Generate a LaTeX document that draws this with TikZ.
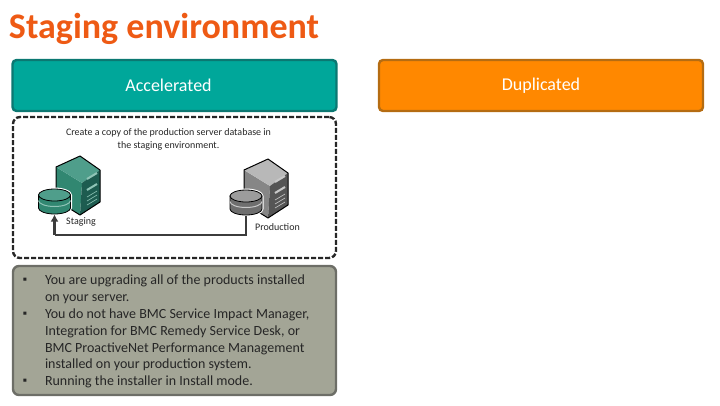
\documentclass[tikz,border=0pt]{standalone}
\usepackage{fontspec}
\setmainfont{Carlito}
\usetikzlibrary{arrows.meta}
\definecolor{tealfill}{HTML}{00A79A}
\definecolor{tealline}{HTML}{0B7872}
\definecolor{orangefill}{HTML}{FF8800}
\definecolor{orangeline}{HTML}{B56C12}
\definecolor{grayfill}{HTML}{A3A596}
\definecolor{grayline}{HTML}{6D6E67}
\definecolor{titlecol}{HTML}{EE5A14}
\definecolor{wirecol}{HTML}{3C3C3C}
\definecolor{stagetop}{HTML}{4F9E8B}
\definecolor{stagefront}{HTML}{318771}
\definecolor{stageside}{HTML}{1D5C50}
\definecolor{stagemark}{HTML}{8FC4B6}
\definecolor{prodtop}{HTML}{B8B8B8}
\definecolor{prodfront}{HTML}{868686}
\definecolor{prodside}{HTML}{555555}
\definecolor{prodmark}{HTML}{C8C8C8}
\definecolor{proddisc}{HTML}{9C9C9C}
\definecolor{prodbody}{HTML}{6E6E6E}
\tikzset{
  pics/server/.style n args={4}{code={
    \draw[white, line width=3pt, line join=round] (0,0) -- (-24,11) -- (-24,44) -- (0,59) -- (20,46) -- (20,14) -- cycle;
    \fill[#2] (-24,11) -- (2,27) -- (0,59) -- (-24,44) -- cycle;
    \fill[#1] (0,0) -- (-24,11) -- (2,27) -- (20,14) -- cycle;
    \fill[#3] (20,14) -- (2,27) -- (0,59) -- (20,46) -- cycle;
    \foreach \slot in {20,31}
      \draw[#4, line width=2pt] (7,\slot+3) -- (17,\slot-3);
    \foreach \slot in {41,45,49}
      \draw[#4, line width=.6pt] (7,\slot) -- (17,\slot-6);
    \draw[black, line width=1pt, line join=round] (0,0) -- (-24,11) -- (-24,44) -- (0,59) -- (20,46) -- (20,14) -- cycle;
  }},
  pics/dbase/.style n args={3}{code={
    \fill[white] (-17.5,0) -- (-17.5,13) arc (180:0:17.5 and 7.5) -- (17.5,0) arc (0:-180:17.5 and 7.5) -- cycle;
    \filldraw[draw=black, fill=#2, line width=.8pt] (-16,0) -- (-16,13) arc (180:0:16 and 6) -- (16,0) -- cycle;
    \draw[#3, line width=1pt] (-16,5.5) arc (180:0:16 and 6);
    \filldraw[draw=black, fill=#1, line width=.8pt] (0,0) ellipse (16 and 6);
    \coordinate (-foot) at (0,19.5);
  }}
}
\begin{document}
\begin{tikzpicture}[x=1pt, y=-1pt,
    every node/.style={inner sep=0pt, outer sep=0pt},
    header/.style={rounded corners=4pt, line width=2.4pt, minimum width=324pt, minimum height=51pt, text=white, font=\fontsize{18}{20}\selectfont},
    small/.style={font=\fontsize{10}{13}\selectfont, text=black!85},
    wire/.style={draw=wirecol, line width=2.4pt},
    bullet/.style={text=black!85, font=\fontsize{12}{12}\selectfont}]
\useasboundingbox (0,0) rectangle (720,405);

\node[anchor=west, text=titlecol, font=\fontsize{36}{38}\selectfont\bfseries] (title) at (9,29) {Staging environment};

\node[header, draw=tealline, fill=tealfill] (accel) at (174.5,85.5) {};
\node[text=white, font=\fontsize{18}{20}\selectfont] (accellabel) at (168.5,85.5) {Accelerated};
\node[header, draw=orangeline, fill=orangefill] (dupl) at (541,85.5) {\raisebox{-3pt}{Duplicated}};

\node[draw=black!85, dash pattern=on 5pt off 2pt, line width=2.4pt, rounded corners=7pt, minimum width=323pt, minimum height=141pt] (copybox) at (174.5,187.5) {};
\node[small, align=center] (copytext) at (168.5,139) {Create a copy of the production server database in\\the staging environment.};

\pic (stagesrv) at (80,156) {server={stagetop}{stagefront}{stageside}{stagemark}};
\pic (stagedb) at (54.5,195) {dbase={stagetop}{stagefront}{stagemark}};
\pic (prodsrv) at (268,159) {server={prodtop}{prodfront}{prodside}{prodmark}};
\pic (proddb) at (246,196) {dbase={proddisc}{prodbody}{prodmark}};

\node[small] (stagelabel) at (81,222) {Staging};
\node[small] (prodlabel) at (277.5,227) {Production};

\coordinate (bend1) at (246,235);
\coordinate (bend2) at (54.5,235);
\draw[wire] (proddb-foot) -- (bend1) -- (bend2);
\draw[wire, -{Latex[length=7pt,width=8pt]}] (bend2) -- (stagedb-foot);

\node[draw=grayline, fill=grayfill, line width=2.4pt, rounded corners=6pt, minimum width=323pt, minimum height=129pt] (notes) at (174.5,330.5) {};
\node[anchor=north west, align=left, text=black!85, font=\fontsize{14}{16.85}\selectfont] (notestext) at (45,275) {You are upgrading all of the products installed\\on your server.\\You do not have BMC Service Impact Manager,\\Integration for BMC Remedy Service Desk, or\\BMC ProactiveNet Performance Management\\installed on your production system.\\Running the installer in Install mode.};
\node[bullet] (bull1) at (25,281) {▪};
\node[bullet] (bull2) at (25,315) {▪};
\node[bullet] (bull3) at (25,382) {▪};
\end{tikzpicture}
\end{document}
